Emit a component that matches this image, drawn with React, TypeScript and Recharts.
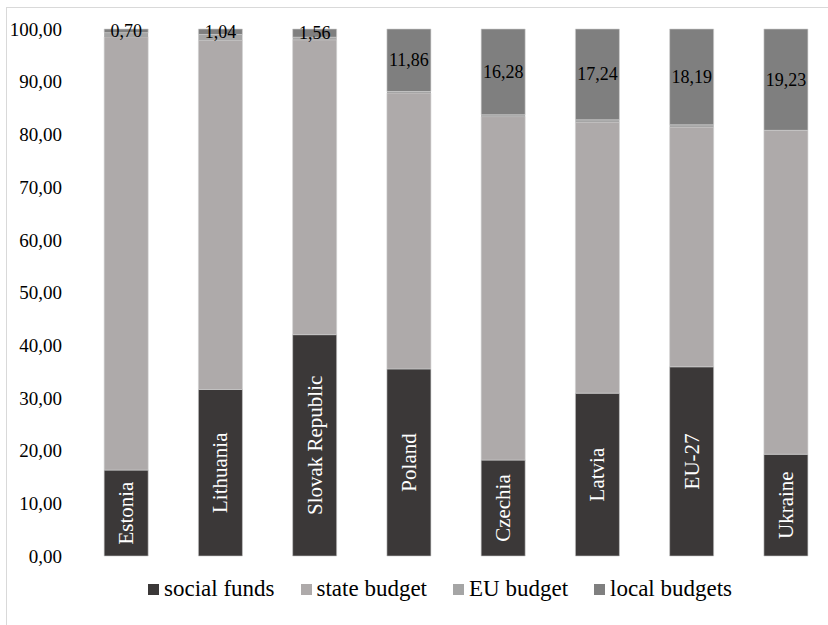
import React from 'react';
import { BarChart, Bar, XAxis, YAxis, Legend, LabelList } from 'recharts';

const categories = ['Estonia', 'Lithuania', 'Slovak Republic', 'Poland', 'Czechia', 'Latvia', 'EU-27', 'Ukraine'];
const socialFunds = [16.3, 31.6, 42.0, 35.5, 18.2, 30.9, 35.9, 19.3];
const stateBudget = [82.2, 66.26, 55.94, 52.34, 65.17, 51.41, 45.46, 61.47];
const euBudget = [0.8, 1.1, 0.5, 0.3, 0.35, 0.45, 0.45, 0.0];
const localBudgets = [0.7, 1.04, 1.56, 11.86, 16.28, 17.24, 18.19, 19.23];
const yTicks = [0, 10, 20, 30, 40, 50, 60, 70, 80, 90, 100];

const seriesNames = ['social funds', 'state budget', 'EU budget', 'local budgets'];
const seriesColors = ['#3b3838', '#aeaaaa', '#a5a5a5', '#7f7f7f'];

const data = categories.map((name, i) => ({
  name,
  social: socialFunds[i],
  state: stateBudget[i],
  eu: euBudget[i],
  local: localBudgets[i],
}));

const FONT = '"Liberation Serif", "Times New Roman", serif';
const fmt = (v: number) => Number(v).toFixed(2).replace('.', ',');

const CategoryLabel = (props: any) => {
  const { x, y, width, height, value } = props;
  const cx = Number(x) + Number(width) / 2;
  const cy = Number(y) + Number(height) / 2;
  return (
    <text
      x={cx}
      y={cy}
      transform={`rotate(-90, ${cx}, ${cy})`}
      textAnchor="middle"
      dominantBaseline="central"
      fill="#ffffff"
      fontSize={21}
      fontFamily={FONT}
    >
      {value}
    </text>
  );
};

const ValueLabel = (props: any) => {
  const { x, y, width, height, value } = props;
  const cx = Number(x) + Number(width) / 2;
  const cy = Number(y) + Number(height) / 2;
  return (
    <text
      x={cx}
      y={cy}
      textAnchor="middle"
      dominantBaseline="central"
      fill="#000000"
      fontSize={18}
      fontFamily={FONT}
    >
      {fmt(value)}
    </text>
  );
};

const LegendContent = () => (
  <div style={{ display: 'flex', alignItems: 'center', fontFamily: FONT, fontSize: 23, color: '#000', height: 30, whiteSpace: 'nowrap' }}>
    {seriesNames.map((n, i) => (
      <div key={n} style={{ display: 'flex', alignItems: 'center', marginRight: 26 }}>
        <span style={{ display: 'inline-block', width: 11, height: 11, background: seriesColors[i], marginRight: 5 }} />
        <span>{n}</span>
      </div>
    ))}
  </div>
);

export default function App() {
  return (
    <div style={{ position: 'absolute', left: 0, top: 0, width: 828, height: 625, overflow: 'hidden', background: '#fff' }}>
      <div style={{ position: 'absolute', left: 6, top: 7, width: 900, height: 700, border: '1px solid #d9d9d9', boxSizing: 'border-box' }} />
      <div style={{ position: 'absolute', left: 0, top: 0 }}>
        <BarChart
          width={845}
          height={625}
          data={data}
          margin={{ top: 29, right: 12, left: 0, bottom: 39 }}
          barCategoryGap="26.7%"
        >
          <XAxis dataKey="name" hide />
          <YAxis
            width={79}
            domain={[0, 100]}
            ticks={yTicks}
            interval={0}
            tickFormatter={fmt}
            axisLine={false}
            tickLine={false}
            tickSize={0}
            tickMargin={17}
            tick={{ fontSize: 19, fontFamily: FONT, fill: '#000' }}
          />
          <Legend
            height={30}
            wrapperStyle={{ top: 574, left: 148, width: 680 }}
            content={<LegendContent />}
          />
          <Bar dataKey="social" name={seriesNames[0]} stackId="a" fill={seriesColors[0]} stroke="#c8c8c8" strokeWidth={0.6} isAnimationActive={false}>
            <LabelList dataKey="name" content={<CategoryLabel />} />
          </Bar>
          <Bar dataKey="state" name={seriesNames[1]} stackId="a" fill={seriesColors[1]} stroke="#d0d0d0" strokeWidth={0.6} isAnimationActive={false} />
          <Bar dataKey="eu" name={seriesNames[2]} stackId="a" fill={seriesColors[2]} isAnimationActive={false} />
          <Bar dataKey="local" name={seriesNames[3]} stackId="a" fill={seriesColors[3]} stroke="#d0d0d0" strokeWidth={0.6} isAnimationActive={false}>
            <LabelList dataKey="local" content={<ValueLabel />} />
          </Bar>
        </BarChart>
      </div>
    </div>
  );
}
